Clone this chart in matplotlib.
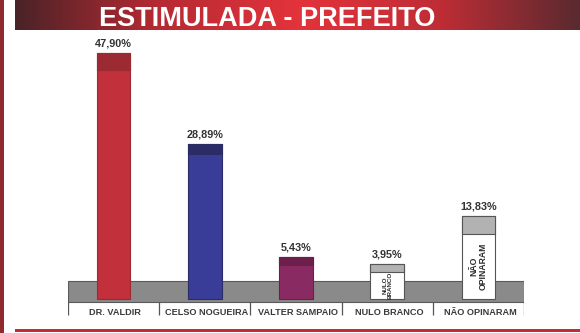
import numpy as np
import matplotlib.pyplot as plt
from matplotlib.colors import LinearSegmentedColormap
from matplotlib.patches import Rectangle

categories = ['DR. VALDIR', 'CELSO NOGUEIRA', 'VALTER SAMPAIO', 'NULO BRANCO', 'NÃO OPINARAM']
values = [47.90, 28.89, 5.43, 3.95, 13.83]
inner_text = [None, None, None, 'NULO\nBRANCO', 'NÃO\nOPINARAM']

body_colors = ['#c1303b', '#3a3d98', '#8a2a62', 'white', 'white']
cap_colors = ['#9c2a33', '#2b2c66', '#6b1f4a', '#b2b2b2', '#b2b2b2']
cap_depth = [3.5, 2.1, 1.7, 1.7, 3.6]
inner_size = [None, None, None, 4.5, 6.2]

plt.rcParams['font.family'] = ['Liberation Sans', 'DejaVu Sans']

W, H = 580, 333
fig = plt.figure(figsize=(W / 100, H / 100), dpi=100)
fig.patch.set_facecolor('white')

# banner with horizontal red gradient
bax = fig.add_axes([15 / W, 1 - 30 / H, 1 - 15 / W, 30 / H])
grad = LinearSegmentedColormap.from_list('banner', ['#4a2327', '#b52a33', '#e3333b', '#c02d35', '#5a2a2f'])
bax.imshow(np.linspace(0, 1, 256)[None, :], cmap=grad, aspect='auto', extent=[0, 1, 0, 1])
bax.set_xlim(0, 1)
bax.set_ylim(0, 1)
bax.axis('off')
fig.text(267 / W, 1 - 25.5 / H, 'ESTIMULADA - PREFEITO', color='white', fontsize=19.5,
         fontweight='bold', ha='center', va='baseline')

# side and bottom frame lines
fig.add_artist(Rectangle((0, 0), 4 / W, 1, transform=fig.transFigure, color='#8e2a30', lw=0))
fig.add_artist(Rectangle((15 / W, 1.5 / H), 1 - 15 / W, 2.5 / H, transform=fig.transFigure,
                         color='#c62a33', lw=0))

ax = fig.add_axes([68 / W, 0, 456 / W, 1])
ax.set_xlim(-0.5, 4.5)
ax.set_ylim(-10.48, 58.89)
ax.axis('off')

base = -3.4
x = np.arange(len(categories))
bw = 0.37

# gray floor
ax.add_patch(Rectangle((-0.5, -4.03), 5.0, 4.38, facecolor='#8a8a8a', edgecolor='#5a5a5a', lw=0.8, zorder=1))
ax.vlines(np.arange(-0.5, 5.0, 1.0), -6.73, -4.03, color='#555555', lw=0.9, zorder=1)

for i, v in enumerate(values):
    ec = '#555555' if body_colors[i] == 'white' else cap_colors[i]
    ax.bar(x[i], v - base, bottom=base, width=bw, color=body_colors[i], edgecolor=ec, lw=0.8, zorder=2)
    ax.bar(x[i], cap_depth[i], bottom=v - cap_depth[i], width=bw, color=cap_colors[i],
           edgecolor=ec, lw=0.8, zorder=3)
    ax.text(x[i], v + 0.9, f'{v:.2f}%'.replace('.', ','), ha='center', va='bottom',
            fontsize=7.8, fontweight='bold', color='#333333', zorder=4)
    if inner_text[i]:
        mid = (base + v - cap_depth[i]) / 2
        ax.text(x[i], mid, inner_text[i], rotation=90, ha='center', va='center', multialignment='center',
                fontsize=inner_size[i], fontweight='bold', color='#2a2a2a', linespacing=1.0, zorder=4)

for i, c in enumerate(categories):
    ax.text(x[i] + 0.02, -6.3, c, ha='center', va='center', fontsize=6.6,
            fontweight='bold', color='#3a3a3a')

fig.savefig('out.png', dpi=100)
